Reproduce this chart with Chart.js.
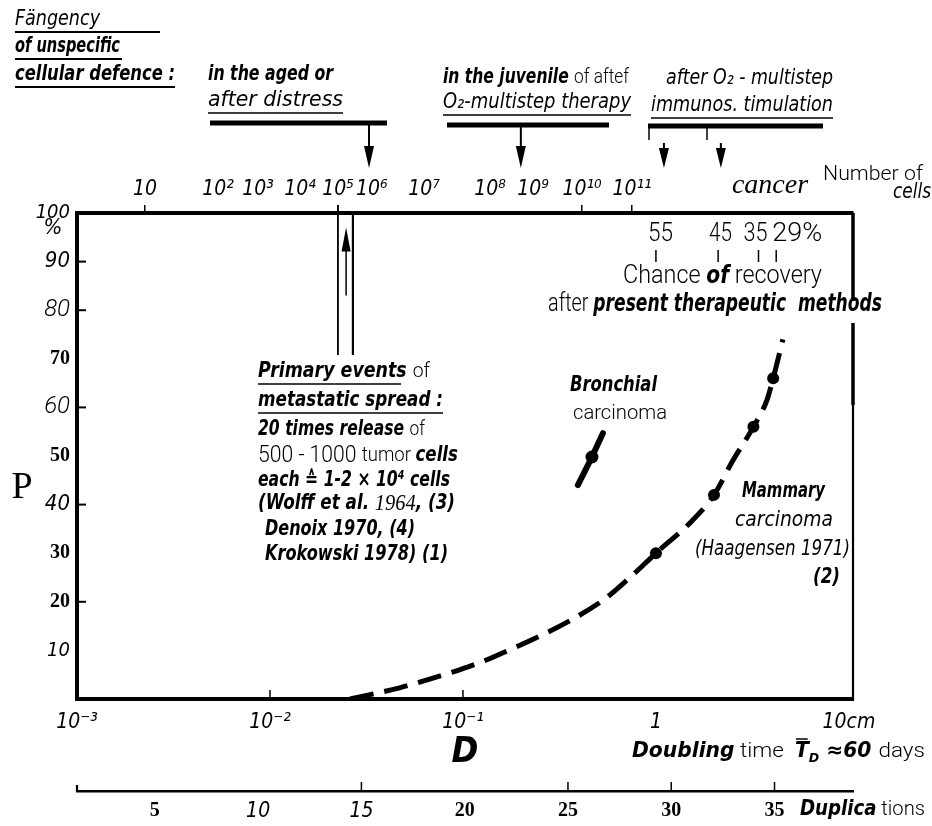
<!DOCTYPE html>
<html>
<head>
<meta charset="utf-8">
<script src="https://cdn.jsdelivr.net/npm/chart.js@4.4.1/dist/chart.umd.min.js"></script>
<style>
  html, body { margin: 0; padding: 0; background: #fff; }
  #wrap { width: 932px; height: 826px; }
</style>
</head>
<body>
<div id="wrap"><canvas id="chart"></canvas></div>
<script>
// tumour diameter D (cm, log scale) against probability P (%)
const diameterTicks = [0.001, 0.01, 0.1, 1, 10];
const diameterLabels = ['10⁻³', '10⁻²', '10⁻¹', '1', '10cm'];
const diameterMin = 0.001;
const diameterMax = 10.5;
const pTicks = [10, 20, 30, 40, 50, 60, 70, 80, 90, 100];
const pTickMarks = [20, 40, 60, 80, 90];

// number of cells, as placed along the diameter scale
const cellTickD = [0.00225, 0.00538, 0.00867, 0.0143, 0.0225, 0.0337, 0.0628, 0.138, 0.231, 0.414, 0.752, 3.9];
const cellTickLabels = ['10', '10²', '10³', '10⁴', '10⁵', '10⁶', '10⁷', '10⁸', '10⁹', '10¹⁰', '10¹¹', 'cancer'];
const cellTickMarked = ['10', '10⁵', '10¹⁰', '10¹¹'];

// duplications scale
const duplicationTicks = [5, 10, 15, 20, 25, 30, 35];
const duplicationMarked = [15, 25, 30, 35];
const duplicationMin = 1.23;
const duplicationMax = 38.8;

// mammary carcinoma (Haagensen 1971)
const mammaryD = [0.026, 0.047, 0.07, 0.096, 0.143, 0.51, 0.71, 1.0, 1.55, 2.0, 2.5, 3.2, 3.76, 4.05, 4.55];
const mammaryP = [0, 2.3, 4.3, 6.0, 8.6, 19.8, 24.5, 30, 36.8, 42, 49, 56, 61.5, 66, 74];
const mammaryDotD = [1.0, 2.0, 3.2, 4.05];
const mammaryDotP = [30, 42, 56, 66];

// bronchial carcinoma
const bronchialD = [0.394, 0.466, 0.531];
const bronchialP = [44, 49.8, 54.7];
const bronchialDotD = [0.466];
const bronchialDotP = [49.8];

// primary events of metastatic spread
const spreadD = [0.0225, 0.0269];
const spreadP = [100, 70.8];
const spreadArrowD = 0.0248;
const spreadArrowP = [83, 97];

// chance of recovery
const recoveryD = [1, 2.1, 3.4, 4.2];
const recoveryPct = [55, 45, 35, 29];
const recoveryText = ['55', '45', '35', '29%'];

// cellular defence arrows
const defenceArrowD = [0.0326, 0.1995, 1.10, 2.17];

const HAND = '"Liberation Sans Narrow", "DejaVu Sans Condensed", Roboto, sans-serif';
const THIN = 'Roboto, "Open Sans", sans-serif';
const SERIF = '"Liberation Serif", "DejaVu Serif", serif';
const HI = 'italic 21px ' + HAND;
const HB = 'italic bold 21px ' + HAND;
const HBs = 'italic bold 13px ' + HAND;
const TH = '300 21px ' + THIN;
const THL = '300 25px ' + THIN;
const THB = '300 24px ' + THIN;
const SI = 'italic 23px ' + SERIF;

const yFonts = {
    100: { family: HAND, size: 20, style: 'italic' },
    90: { family: HAND, size: 22, style: 'italic' },
    80: { family: THIN, size: 24, style: 'italic', weight: 300 },
    70: { family: SERIF, size: 20, weight: 'bold' },
    60: { family: THIN, size: 24, style: 'italic', weight: 300 },
    50: { family: SERIF, size: 20, weight: 'bold' },
    40: { family: HAND, size: 22, style: 'italic' },
    30: { family: SERIF, size: 20, weight: 'bold' },
    20: { family: SERIF, size: 20, weight: 'bold' },
    10: { family: HAND, size: 20, style: 'italic' }
};

function pts(xs, ys) {
    return xs.map((x, i) => ({ x: x, y: ys[i] }));
}

// draw a line of mixed-font text squeezed into [x0, x1]
function drawFit(ctx, x0, x1, y, runs) {
    let total = 0;
    const widths = runs.map(r => {
        ctx.font = r[1];
        const w = ctx.measureText(r[0]).width;
        total += w;
        return w;
    });
    const sx = (x1 - x0) / total;
    let cx = x0;
    const starts = [];
    runs.forEach((r, i) => {
        starts.push(cx);
        ctx.save();
        ctx.font = r[1];
        ctx.textBaseline = 'middle';
        ctx.textAlign = 'left';
        ctx.translate(cx, y + (r[3] || 0));
        ctx.scale(sx, 1);
        ctx.fillText(r[0], 0, 0);
        ctx.restore();
        if (r[2]) {
            const w = r[0].endsWith(' ') ? widths[i] * 0.85 : widths[i];
            seg(ctx, cx, y + 12, cx + w * sx, y + 12, 1.6);
        }
        cx += widths[i] * sx;
    });
    starts.push(cx);
    return starts;
}

function seg(ctx, x0, y0, x1, y1, w) {
    ctx.save();
    ctx.lineWidth = w;
    ctx.strokeStyle = '#000';
    ctx.lineCap = 'butt';
    ctx.beginPath();
    ctx.moveTo(x0, y0);
    ctx.lineTo(x1, y1);
    ctx.stroke();
    ctx.restore();
}

function arrow(ctx, x, y0, y1, w, len, half) {
    const dir = Math.sign(y1 - y0);
    seg(ctx, x, y0, x, y1 - dir * len * 0.6, w);
    ctx.beginPath();
    ctx.moveTo(x, y1);
    ctx.lineTo(x - half, y1 - dir * len);
    ctx.lineTo(x + half, y1 - dir * len);
    ctx.closePath();
    ctx.fillStyle = '#000';
    ctx.fill();
}

const annotate = {
    id: 'annotate',
    afterDraw(chart) {
        const ctx = chart.ctx;
        const a = chart.chartArea;
        const X = d => chart.scales.x.getPixelForValue(d);
        const Y = p => chart.scales.y.getPixelForValue(p);
        const X2 = n => chart.scales.x2.getPixelForValue(n);
        ctx.save();
        ctx.fillStyle = '#000';

        // right frame, broken where the text crosses it
        seg(ctx, a.right, a.top, a.right, a.top + 88, 3.5);
        seg(ctx, a.right, a.top + 110, a.right, a.top + 192, 3.5);
        seg(ctx, a.right, a.top + 192, a.right, a.bottom + 2, 2.2);

        // inner ticks
        pTickMarks.forEach(p => seg(ctx, a.left, Y(p), a.left + 9, Y(p), 2));
        [0.01, 0.1].forEach(d => seg(ctx, X(d), a.bottom, X(d), a.bottom - 9, 1.5));

        // duplications axis ticks
        const dupY = chart.scales.x2.top;
        duplicationMarked.forEach(n => seg(ctx, X2(n), dupY, X2(n), dupY - 9, 1.5));
        seg(ctx, a.left, dupY + 1, a.left, dupY - 6, 2.2);

        // header: unspecific cellular defence
        drawFit(ctx, 15, 100, 20, [['Fängency', HI]]);
        seg(ctx, 15, 32, 160, 32, 1.8);
        drawFit(ctx, 15, 120, 47, [['of unspecific', HB]]);
        seg(ctx, 15, 59, 122, 59, 1.8);
        drawFit(ctx, 15, 175, 75, [['cellular defence :', HB]]);
        seg(ctx, 15, 87, 175, 87, 1.8);

        drawFit(ctx, 208, 333, 75, [['in the aged or', HB]]);
        drawFit(ctx, 208, 343, 101, [['after distress', HI, true]]);
        seg(ctx, 210, 123, 387, 123, 5);

        drawFit(ctx, 443, 629, 78, [['in the juvenile ', HB], ['of aftef', TH]]);
        drawFit(ctx, 443, 631, 103, [['O₂-multistep therapy', HI, true]]);
        seg(ctx, 447, 125, 609, 125, 5);

        drawFit(ctx, 666, 833, 79, [['after O₂ - multistep', HI]]);
        drawFit(ctx, 651, 833, 106, [['immunos. timulation', HI, true]]);
        seg(ctx, 648, 126, 823, 126, 5);
        seg(ctx, 649, 126, 649, 140, 1.5);
        seg(ctx, 707, 126, 707, 140, 1.5);

        arrow(ctx, X(defenceArrowD[0]), 123, 168, 2, 22, 5);
        arrow(ctx, X(defenceArrowD[1]), 125, 168, 2, 22, 5);
        arrow(ctx, X(defenceArrowD[2]), 143, 168, 2, 20, 5);
        arrow(ctx, X(defenceArrowD[3]), 143, 168, 2, 20, 5);

        drawFit(ctx, 823, 923, 175, [['Number of', TH]]);
        drawFit(ctx, 893, 931, 193, [['cells', HI]]);

        // P and %
        ctx.font = '38px ' + SERIF;
        ctx.textAlign = 'center';
        ctx.textBaseline = 'middle';
        ctx.fillText('P', 22, Y(43.5));
        ctx.font = 'italic 22px ' + HAND;
        ctx.fillText('%', 53, Y(96.8));

        // primary events
        seg(ctx, X(spreadD[0]), a.top - 8, X(spreadD[0]), a.top, 1.8);
        arrow(ctx, X(spreadArrowD), Y(spreadArrowP[0]), Y(spreadArrowP[1]), 1.5, 24, 4.5);
        drawFit(ctx, 258, 430, 372, [['Primary', HB, true], [' events ', HB, true], ['of', TH]]);
        drawFit(ctx, 258, 443, 401, [['metastatic spread :', HB, true]]);
        drawFit(ctx, 258, 425, 430, [['20 times release ', HB], ['of', TH]]);
        drawFit(ctx, 258, 458, 456, [['500 - 1000 ', THB], ['tumor ', TH], ['cells', HB]]);
        drawFit(ctx, 258, 450, 481, [['each ≙ 1-2 × 10⁴ cells', HB]]);
        drawFit(ctx, 258, 455, 504, [['(Wolff et al. ', HB], ['1964', SI], [', (3)', HB]]);
        drawFit(ctx, 265, 415, 530, [['Denoix 1970, (4)', HB]]);
        drawFit(ctx, 265, 448, 555, [['Krokowski 1978) (1)', HB]]);

        // bronchial
        drawFit(ctx, 570, 657, 386, [['Bronchial', HB]]);
        drawFit(ctx, 573, 667, 414, [['carcinoma', TH]]);

        // mammary
        drawFit(ctx, 742, 825, 492, [['Mammary', HB]]);
        drawFit(ctx, 735, 833, 521, [['carcinoma', HI]]);
        drawFit(ctx, 695, 850, 550, [['(Haagensen 1971)', HI]]);
        drawFit(ctx, 813, 840, 578, [['(2)', HB]]);

        // chance of recovery
        const spans = [[-8, 17], [-9, 14], [-15, 9], [-4, 46]];
        recoveryD.forEach((d, i) => {
            const x = X(d);
            drawFit(ctx, x + spans[i][0], x + spans[i][1], a.top + 22, [[recoveryText[i], THL]]);
            seg(ctx, x, a.top + 37, x, a.top + 49, 1.5);
        });
        drawFit(ctx, 623, 822, 277, [['Chance ', THL], ['of', 'italic bold 24px ' + HAND], [' recovery', THL]]);
        drawFit(ctx, 548, 882, 305, [['after ', THL], ['present therapeutic  ', 'italic bold 24px ' + HAND], ['methods', 'italic bold 24px ' + HAND]]);

        // doubling time
        const s = drawFit(ctx, 632, 925, 752, [['Doubling', HB], [' time  ', TH], ['T', HB], ['D', HBs, false, 7], [' ≈60 ', HB], ['days', TH]]);
        seg(ctx, s[2] + 1, 739, s[3] - 1, 739, 1.5);

        // duplications
        drawFit(ctx, 800, 925, 810, [['Duplica', HB], [' tions', TH]]);

        ctx.restore();
    }
};

new Chart(document.getElementById('chart'), {
    type: 'line',
    data: {
        datasets: [
            {
                data: pts(mammaryD, mammaryP),
                borderColor: '#000',
                borderWidth: 5,
                borderDash: [24, 11],
                pointRadius: 0,
                cubicInterpolationMode: 'monotone',
                xAxisID: 'x', yAxisID: 'y'
            },
            {
                data: pts(mammaryDotD, mammaryDotP),
                showLine: false,
                pointRadius: 6,
                pointBackgroundColor: '#000',
                pointBorderWidth: 0,
                xAxisID: 'x', yAxisID: 'y'
            },
            {
                data: pts(bronchialD, bronchialP),
                borderColor: '#000',
                borderWidth: 6,
                borderCapStyle: 'round',
                pointRadius: 0,
                xAxisID: 'x', yAxisID: 'y'
            },
            {
                data: pts(bronchialDotD, bronchialDotP),
                showLine: false,
                pointRadius: 6.5,
                pointBackgroundColor: '#000',
                pointBorderWidth: 0,
                xAxisID: 'x', yAxisID: 'y'
            },
            {
                data: pts([spreadD[0], spreadD[0]], spreadP),
                borderColor: '#000',
                borderWidth: 1.8,
                pointRadius: 0,
                xAxisID: 'x', yAxisID: 'y'
            },
            {
                data: pts([spreadD[1], spreadD[1]], spreadP),
                borderColor: '#000',
                borderWidth: 2.2,
                pointRadius: 0,
                xAxisID: 'x', yAxisID: 'y'
            }
        ]
    },
    options: {
        responsive: true,
        maintainAspectRatio: false,
        animation: false,
        layout: { padding: { left: 0, right: 79, top: 0, bottom: 0 } },
        plugins: {
            legend: { display: false },
            tooltip: { enabled: false }
        },
        scales: {
            x: {
                type: 'logarithmic',
                position: 'bottom',
                weight: 0,
                min: diameterMin,
                max: diameterMax,
                afterBuildTicks: s => { s.ticks = diameterTicks.map(v => ({ value: v })); },
                afterFit: s => { s.height = 92; s.paddingLeft = 0; s.paddingRight = 0; },
                grid: { drawOnChartArea: false, drawTicks: false },
                border: { color: '#000', width: 4 },
                ticks: {
                    color: '#000',
                    padding: 11,
                    autoSkip: false,
                    maxRotation: 0,
                    font: { family: HAND, size: 21, style: 'italic' },
                    callback: (v, i) => diameterLabels[i]
                },
                title: {
                    display: true,
                    text: 'D',
                    color: '#000',
                    padding: { top: 0, bottom: 17 },
                    font: { family: HAND, size: 36, style: 'italic', weight: 'bold' }
                }
            },
            x2: {
                type: 'linear',
                position: 'bottom',
                weight: 1,
                min: duplicationMin,
                max: duplicationMax,
                afterBuildTicks: s => { s.ticks = duplicationTicks.map(v => ({ value: v })); },
                afterFit: s => { s.height = 35; s.paddingLeft = 0; s.paddingRight = 0; },
                grid: { drawOnChartArea: false, drawTicks: false },
                border: { color: '#000', width: 2.5 },
                ticks: {
                    color: '#000',
                    padding: 8,
                    autoSkip: false,
                    maxRotation: 0,
                    font: c => (c.tick && (c.tick.value === 10 || c.tick.value === 15))
                        ? { family: HAND, size: 21, style: 'italic' }
                        : { family: SERIF, size: 20, weight: 'bold' }
                }
            },
            x3: {
                type: 'logarithmic',
                position: 'top',
                min: diameterMin,
                max: diameterMax,
                afterBuildTicks: s => { s.ticks = cellTickD.map(v => ({ value: v })); },
                afterFit: s => { s.height = 213; s.paddingLeft = 0; s.paddingRight = 0; },
                grid: {
                    drawOnChartArea: false,
                    tickLength: 8,
                    lineWidth: 1.5,
                    color: c => (c.tick && cellTickMarked.includes(c.tick.label)) ? '#000' : 'rgba(0,0,0,0)'
                },
                border: { color: '#000', width: 4 },
                ticks: {
                    color: '#000',
                    padding: 3,
                    autoSkip: false,
                    maxRotation: 0,
                    font: c => (c.index === cellTickLabels.length - 1)
                        ? { family: SERIF, size: 28, style: 'italic' }
                        : { family: HAND, size: 21, style: 'italic' },
                    callback: (v, i) => cellTickLabels[i]
                }
            },
            y: {
                type: 'linear',
                min: 0,
                max: 100,
                afterBuildTicks: s => { s.ticks = pTicks.map(v => ({ value: v })); },
                afterFit: s => { s.width = 77; s.paddingTop = 0; s.paddingBottom = 0; },
                grid: { drawOnChartArea: false, drawTicks: false },
                border: { color: '#000', width: 4 },
                ticks: {
                    color: '#000',
                    padding: 7,
                    font: c => yFonts[c.tick ? c.tick.value : 10] || yFonts[10],
                    callback: v => String(v)
                }
            }
        }
    },
    plugins: [annotate]
});
</script>
</body>
</html>
